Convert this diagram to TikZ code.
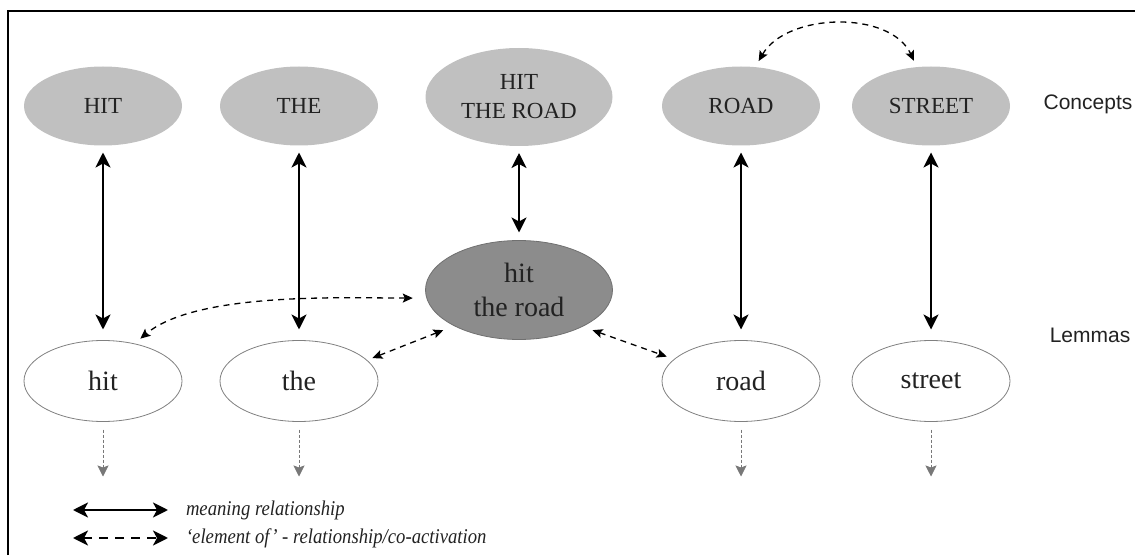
\documentclass[tikz,border=0pt]{standalone}
\usepackage{fontspec}
\setmainfont{Liberation Serif}
\newfontfamily\labelfont{Liberation Sans}
\newfontfamily\legendfont{Liberation Serif}[FakeStretch=0.89]
\usetikzlibrary{arrows.meta,positioning,shapes.geometric}
\definecolor{conceptgray}{RGB}{192,192,192}
\definecolor{phrasegray}{RGB}{140,140,140}
\definecolor{rimgray}{RGB}{128,128,128}
\definecolor{inkgray}{RGB}{34,34,34}
\definecolor{spreadgray}{RGB}{120,120,120}
\begin{document}
\begin{tikzpicture}[x=1pt,y=1pt,inner sep=0pt,outer sep=0pt,
concept/.style={ellipse,fill=conceptgray,minimum width=158pt,minimum height=79pt,text=inkgray,align=center,font=\fontsize{23}{29}\selectfont},
lemma/.style={ellipse,draw=rimgray,line width=0.8pt,fill=white,minimum width=158pt,minimum height=81pt,text=inkgray,align=center,font=\fontsize{28}{34}\selectfont},
phrase/.style={lemma,fill=phrasegray,draw=phrasegray!80!black,minimum width=187pt,minimum height=99pt},
levellabel/.style={text=inkgray,font=\labelfont\fontsize{21}{25}\selectfont},
legendtext/.style={anchor=west,text=inkgray,font=\legendfont\itshape\fontsize{21}{25}\selectfont},
meaning/.style={{Stealth[length=15pt,width=15pt,inset=4pt]}-{Stealth[length=15pt,width=15pt,inset=4pt]},line width=2.4pt},
coact/.style={{Stealth[length=10pt,width=9pt,inset=2pt]}-{Stealth[length=10pt,width=9pt,inset=2pt]},line width=1.3pt,dash pattern=on 6pt off 5pt},
legcoact/.style={meaning,dash pattern=on 9pt off 7pt},
spread/.style={-{Stealth[length=11pt,width=11pt,inset=2pt]},draw=spreadgray,line width=0.8pt,dash pattern=on 3pt off 2pt}]
\useasboundingbox (0,0) rectangle (1135,555);
\draw[line width=2pt] (8,0) -- (8,544) -- (1135,544);
\draw (103,449) node[concept] (cHit) {HIT};
\draw (299,449) node[concept] (cThe) {THE};
\draw (519,458) node[concept,minimum width=187pt,minimum height=98pt] (cPhrase) {HIT\\THE ROAD};
\draw (741,449) node[concept] (cRoad) {ROAD};
\draw (931,449) node[concept] (cStreet) {STREET};
\draw (103,174) node[lemma] (lHit) {hit};
\draw (299,174) node[lemma] (lThe) {the};
\draw (519,265) node[phrase] (lPhrase) {hit\\the road};
\draw (741,174) node[lemma] (lRoad) {road};
\draw (931,174) node[lemma] (lStreet) {street};
\draw (1088,451) node[levellabel] (conceptsLabel) {Concepts};
\draw (1090,220) node[levellabel] (lemmasLabel) {Lemmas};
\foreach \a/\b in {cHit/lHit,cThe/lThe,cRoad/lRoad,cStreet/lStreet}
  \draw[meaning,shorten <=7pt,shorten >=11pt] (\a) -- (\b);
\draw[meaning,shorten <=7pt,shorten >=8pt] (cPhrase) -- (lPhrase);
\draw[coact,shorten <=7pt,shorten >=7pt] (cRoad.70) to[out=60,in=115] (cStreet.110);
\draw[coact,shorten <=14pt,shorten >=8pt] (lPhrase.185) to[out=180,in=40,looseness=0.7] (lHit.50);
\draw[coact,shorten <=6pt,shorten >=12pt] (lThe.17) -- (lPhrase.209);
\draw[coact,shorten <=11pt,shorten >=8pt] (lPhrase.330) -- (lRoad.162);
\foreach \n in {lHit,lThe,lRoad,lStreet}{
  \path (\n.south) ++(0,-55) coordinate (\n-end);
  \draw[spread,shorten <=8pt] (\n) -- (\n-end);
}
\coordinate (legA) at (73,45);
\coordinate (legB) at (168,45);
\coordinate (legC) at (73,17);
\coordinate (legD) at (168,17);
\draw[meaning] (legA) -- (legB);
\draw[legcoact] (legC) -- (legD);
\node[legendtext,right=18pt of legB] (legMeaning) {meaning relationship};
\node[legendtext,right=18pt of legD] (legCoact) {‘element of’ - relationship/co-activation};
\end{tikzpicture}
\end{document}
